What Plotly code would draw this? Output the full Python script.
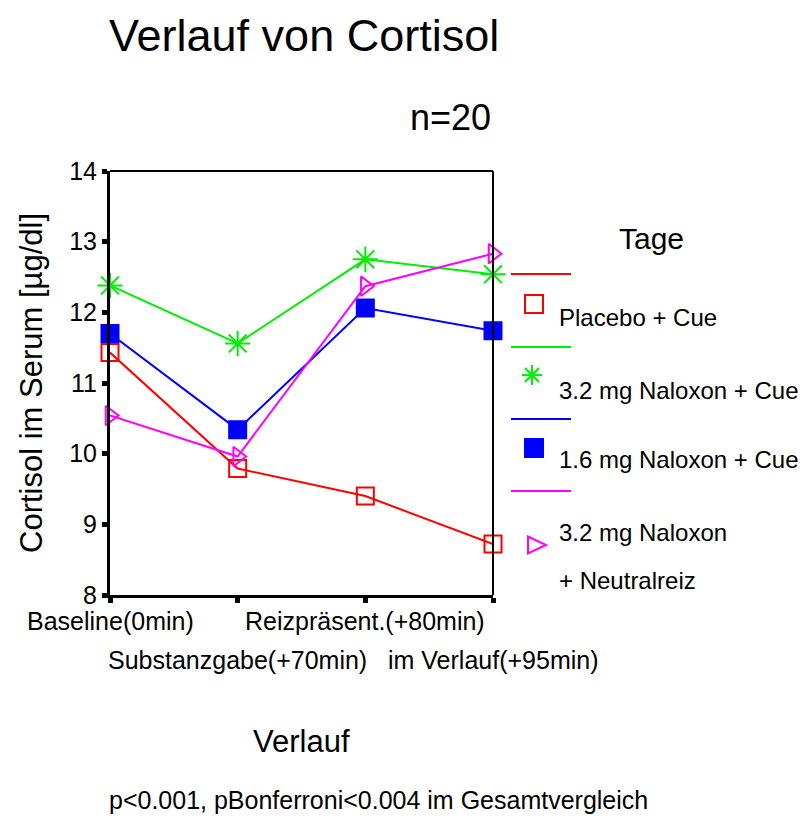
import plotly.graph_objects as go

# ---------------- data ----------------
categories = ["Baseline(0min)", "Substanzgabe(+70min)", "Reizpräsent.(+80min)", "im Verlauf(+95min)"]
placebo_cue = [11.43, 9.79, 9.40, 8.72]
nalox32_cue = [12.38, 11.56, 12.75, 12.54]
nalox16_cue = [11.70, 10.34, 12.06, 11.74]
nalox32_neutral = [10.54, 9.96, 12.37, 12.83]
series_names = ["Placebo + Cue", "3.2 mg Naloxon + Cue", "1.6 mg Naloxon + Cue", "3.2 mg Naloxon<br>+ Neutralreiz"]
y_ticks = [8, 9, 10, 11, 12, 13, 14]

OFF = 8  # page body margin
W, H = 811 - OFF, 818 - OFF
L, R, T, B = 110 - OFF, 493 - OFF, 171 - OFF, 595 - OFF
FONT = "Liberation Sans, Arial, sans-serif"


def px(x):
    return (x - OFF - L) / (R - L)


def py(y):
    return (B - (y - OFF)) / (B - T)


x_idx = list(range(len(categories)))
styles = [
    dict(color="#ff0000", symbol="square-open", size=17),
    dict(color="#00ee00", symbol="asterisk-open", size=21),
    dict(color="#0000ff", symbol="square", size=17),
    dict(color="#ff00ff", symbol="triangle-right-open", size=17),
]
all_series = [placebo_cue, nalox32_cue, nalox16_cue, nalox32_neutral]

fig = go.Figure()
for vals, st, name in zip(all_series, styles, series_names):
    fig.add_trace(go.Scatter(
        x=x_idx, y=vals, mode="lines+markers", name=name,
        line=dict(color=st["color"], width=2),
        marker=dict(symbol=st["symbol"], size=st["size"],
                    color=st["color"], line=dict(color=st["color"], width=2)),
        cliponaxis=False, showlegend=False,
    ))

annotations = []
shapes = []

# frame top & right
shapes.append(dict(type="line", xref="paper", yref="paper", x0=0, x1=1, y0=1, y1=1,
                   line=dict(color="black", width=2)))
shapes.append(dict(type="line", xref="paper", yref="paper", x0=1, x1=1, y0=0, y1=1,
                   line=dict(color="black", width=2)))

# x category labels (staggered)
row_y = [621, 660]
for i, c in enumerate(categories):
    annotations.append(dict(x=i, y=py(row_y[i % 2]), xref="x", yref="paper", text=c,
                            showarrow=False, xanchor="center", yanchor="middle",
                            font=dict(size=25, family=FONT, color="black")))

# titles
annotations.append(dict(x=px(304), y=py(OFF), xref="paper", yref="paper", text="Verlauf von Cortisol",
                        showarrow=False, xanchor="center", yanchor="top",
                        font=dict(size=45, family=FONT, color="black")))
annotations.append(dict(x=px(450), y=py(117), xref="paper", yref="paper", text="n=20",
                        showarrow=False, xanchor="center", yanchor="middle",
                        font=dict(size=36, family=FONT, color="black")))
annotations.append(dict(x=px(31), y=py(383), xref="paper", yref="paper", text="Cortisol im Serum [µg/dl]",
                        showarrow=False, xanchor="center", yanchor="middle", textangle=-90,
                        font=dict(size=31, family=FONT, color="black")))
annotations.append(dict(x=px(301), y=py(741), xref="paper", yref="paper", text="Verlauf",
                        showarrow=False, xanchor="center", yanchor="middle",
                        font=dict(size=31, family=FONT, color="black")))
annotations.append(dict(x=px(378), y=py(800), xref="paper", yref="paper",
                        text="p<0.001, pBonferroni<0.004 im Gesamtvergleich",
                        showarrow=False, xanchor="center", yanchor="middle",
                        font=dict(size=25, family=FONT, color="black")))

# legend
annotations.append(dict(x=px(651), y=py(238), xref="paper", yref="paper", text="Tage",
                        showarrow=False, xanchor="center", yanchor="middle",
                        font=dict(size=30, family=FONT, color="black")))
leg_line_y = [274, 347, 419, 491]
leg_mark = [(534, 304), (532, 375), (534, 448), (536, 545)]
leg_text = [[("Placebo + Cue", 317)], [("3.2 mg Naloxon + Cue", 390)],
            [("1.6 mg Naloxon + Cue", 459)], [("3.2 mg Naloxon", 532), ("+ Neutralreiz", 580)]]
for i, st in enumerate(styles):
    c = st["color"]
    shapes.append(dict(type="line", xref="paper", yref="paper",
                       x0=px(511), x1=px(571), y0=py(leg_line_y[i]), y1=py(leg_line_y[i]),
                       line=dict(color=c, width=2)))
    mx, my = leg_mark[i]
    if i in (0, 2):
        h = 9
        shapes.append(dict(type="rect", xref="paper", yref="paper",
                           x0=px(mx - h), x1=px(mx + h), y0=py(my + h), y1=py(my - h),
                           line=dict(color=c, width=2),
                           fillcolor=c if i == 2 else "rgba(0,0,0,0)"))
    elif i == 1:
        r = 10
        d = r * 0.707
        segs = [(mx - r, my, mx + r, my), (mx, my - r, mx, my + r),
                (mx - d, my - d, mx + d, my + d), (mx - d, my + d, mx + d, my - d)]
        for (a, b_, cc, dd) in segs:
            shapes.append(dict(type="line", xref="paper", yref="paper",
                               x0=px(a), y0=py(b_), x1=px(cc), y1=py(dd),
                               line=dict(color=c, width=2)))
    else:
        path = "M {} {} L {} {} L {} {} Z".format(px(mx - 8), py(my - 8.5), px(mx + 10), py(my),
                                                  px(mx - 8), py(my + 8.5))
        shapes.append(dict(type="path", xref="paper", yref="paper", path=path,
                           line=dict(color=c, width=2)))
    for t, ty in leg_text[i]:
        annotations.append(dict(x=px(557), y=py(ty), xref="paper", yref="paper", text=t,
                                showarrow=False, xanchor="left", yanchor="middle",
                                font=dict(size=24, family=FONT, color="black")))

fig.update_layout(
    width=W, height=H,
    margin=dict(l=L, r=W - R, t=T, b=H - B, pad=0),
    paper_bgcolor="white", plot_bgcolor="white",
    font=dict(family=FONT, color="black"),
    xaxis=dict(range=[0, 3], tickvals=x_idx, showticklabels=False, ticks="outside",
               ticklen=5, tickwidth=5, tickcolor="black", showline=True, linewidth=3,
               linecolor="black", showgrid=False, zeroline=False, fixedrange=True),
    yaxis=dict(range=[8, 14], tickvals=y_ticks, ticks="outside", ticklen=5, tickwidth=5,
               tickcolor="black", showline=True, linewidth=3, linecolor="black",
               showgrid=False, zeroline=False, tickfont=dict(size=25, family=FONT, color="black")),
    shapes=shapes, annotations=annotations, showlegend=False,
)

fig.write_html("out.html")
